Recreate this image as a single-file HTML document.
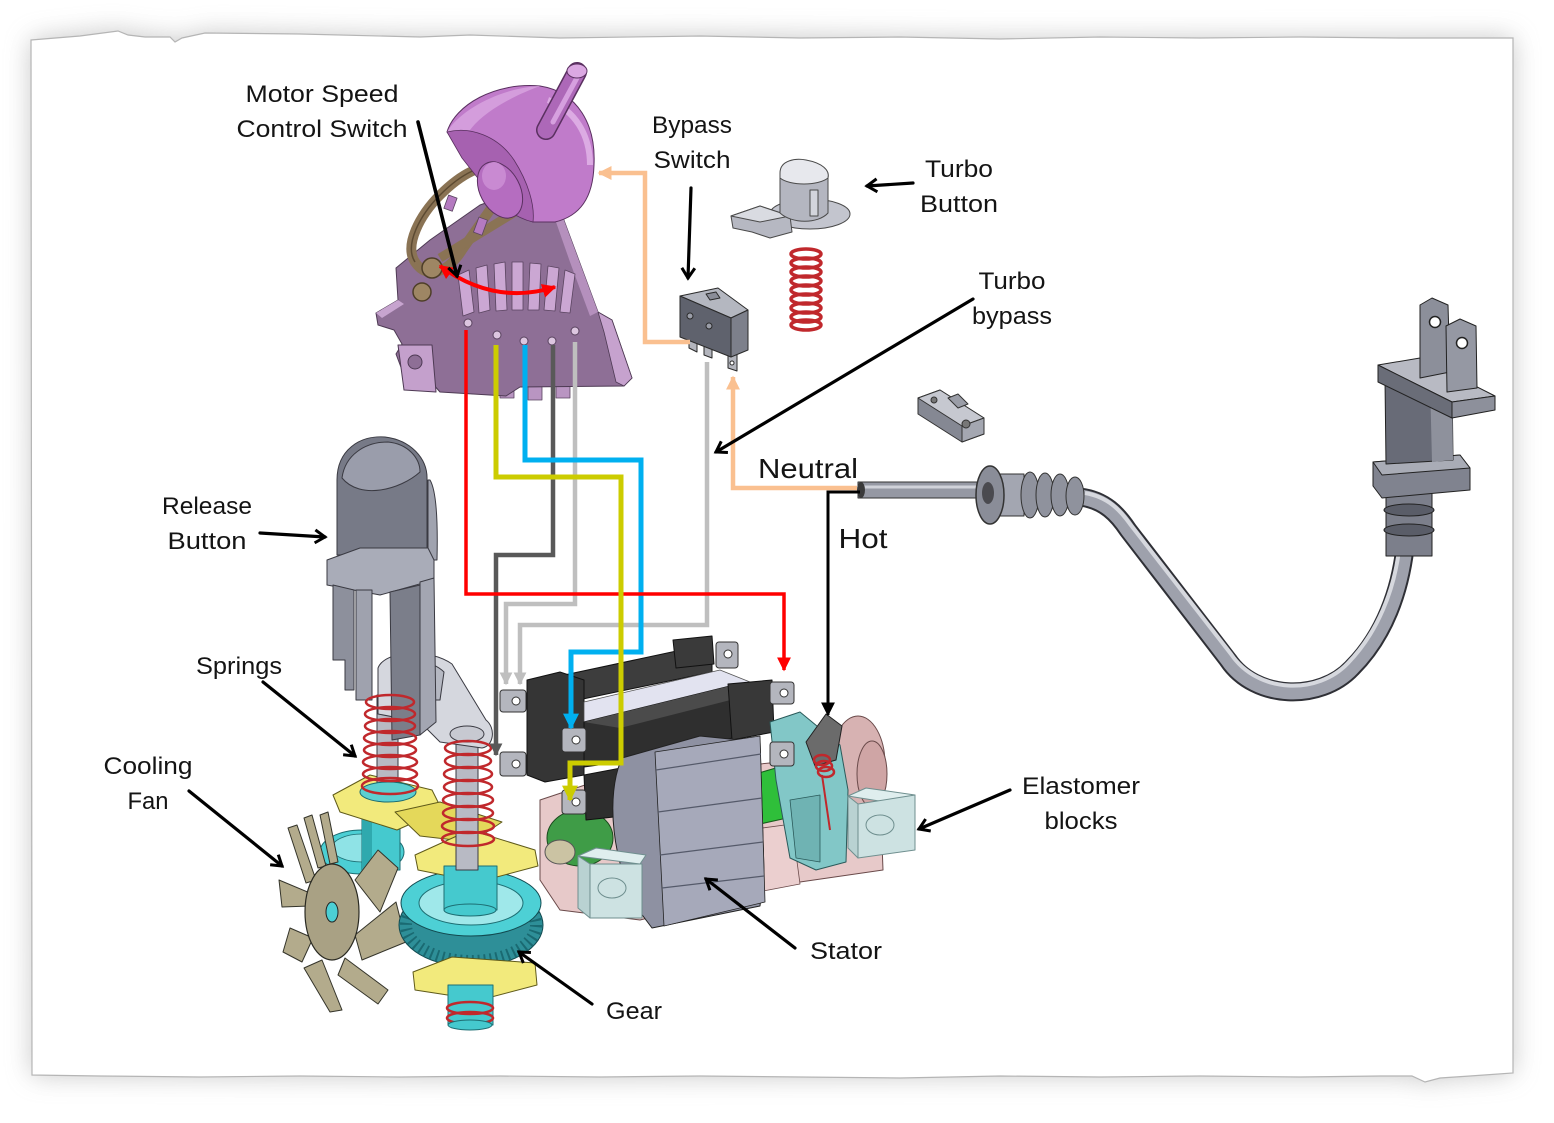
<!DOCTYPE html>
<html><head><meta charset="utf-8">
<style>
html,body{margin:0;padding:0;background:#fff;}
svg{display:block;}
text{font-family:"Liberation Sans",sans-serif;fill:#141414;}
</style></head><body>
<svg width="1554" height="1123" viewBox="0 0 1554 1123" xmlns="http://www.w3.org/2000/svg">
<defs>
<filter id="sh" x="-10%" y="-10%" width="120%" height="120%"><feGaussianBlur stdDeviation="13"/></filter>
<marker id="ah" markerWidth="16" markerHeight="16" refX="12" refY="8" orient="auto" markerUnits="userSpaceOnUse"><path d="M2,1.5 L12,8 L2,14.5" fill="none" stroke="#000" stroke-width="3"/></marker>
<marker id="mr" viewBox="0 0 10 10" refX="9" refY="5" markerWidth="14" markerHeight="14" orient="auto-start-reverse" markerUnits="userSpaceOnUse"><path d="M0,0 L10,5 L0,10 z" fill="#ff0000"/></marker>
<marker id="my" viewBox="0 0 10 10" refX="9" refY="5" markerWidth="16" markerHeight="16" orient="auto" markerUnits="userSpaceOnUse"><path d="M0,0 L10,5 L0,10 z" fill="#cccc00"/></marker>
<marker id="mb" viewBox="0 0 10 10" refX="9" refY="5" markerWidth="16" markerHeight="16" orient="auto" markerUnits="userSpaceOnUse"><path d="M0,0 L10,5 L0,10 z" fill="#00b0f0"/></marker>
<marker id="md" viewBox="0 0 10 10" refX="9" refY="5" markerWidth="13" markerHeight="13" orient="auto" markerUnits="userSpaceOnUse"><path d="M0,0 L10,5 L0,10 z" fill="#595959"/></marker>
<marker id="ml" viewBox="0 0 10 10" refX="9" refY="5" markerWidth="13" markerHeight="13" orient="auto" markerUnits="userSpaceOnUse"><path d="M0,0 L10,5 L0,10 z" fill="#bfbfbf"/></marker>
<marker id="mp" viewBox="0 0 10 10" refX="9" refY="5" markerWidth="14" markerHeight="14" orient="auto" markerUnits="userSpaceOnUse"><path d="M0,0 L10,5 L0,10 z" fill="#fac090"/></marker>
<marker id="mk" viewBox="0 0 10 10" refX="9" refY="5" markerWidth="14" markerHeight="14" orient="auto" markerUnits="userSpaceOnUse"><path d="M0,0 L10,5 L0,10 z" fill="#000"/></marker>
</defs>

<!-- paper shadow and paper -->
<path d="M31,40 L118,31 L145,37 L170,37 L175,42 L205,33 L420,37 L700,36 L1000,39 L1513,38 L1513,1073 L1440,1078 L1425,1082 L1412,1076 L1000,1076 L500,1077 L32,1075 Z" fill="#9a9a9a" opacity="0.55" filter="url(#sh)"/>
<path d="M31,40 L80,36 L118,31 L128,35 L145,37 L170,37 L175,42 L182,38 L205,33 L300,34 L420,37 L470,35 L560,38 L700,36 L800,38 L900,37 L1000,39 L1100,37 L1200,38 L1300,37 L1400,38 L1513,38 L1513,1073 L1470,1076 L1440,1078 L1425,1082 L1412,1076 L1380,1076 L1300,1077 L1200,1076 L1100,1077 L1000,1076 L900,1078 L800,1077 L700,1076 L600,1077 L500,1076 L400,1077 L300,1076 L200,1077 L100,1076 L32,1075 Z" fill="#fff" stroke="#b5b5b5" stroke-width="1.2"/>

<!-- ===== Motor speed control switch ===== -->
<g stroke-linejoin="round">
<rect x="472" y="364" width="14" height="30" fill="#b995c2" stroke="#5a4460" stroke-width="0.8"/>
<rect x="500" y="368" width="14" height="30" fill="#b995c2" stroke="#5a4460" stroke-width="0.8"/>
<rect x="528" y="370" width="14" height="30" fill="#b995c2" stroke="#5a4460" stroke-width="0.8"/>
<rect x="556" y="370" width="14" height="28" fill="#b995c2" stroke="#5a4460" stroke-width="0.8"/>
<path d="M376,313 L398,300 L396,268 L430,240 L480,205 L528,188 L562,215 L578,258 L598,312 L612,320 L632,378 L624,386 L520,387 L506,396 L440,392 L432,383 L420,372 L402,370 L396,354 L402,344 L394,330 L378,325 Z" fill="#8e6f96" stroke="#4e3a54" stroke-width="1"/>
<path d="M376,313 L398,300 L404,304 L382,318 Z" fill="#c7a4cf"/>
<path d="M598,312 L612,320 L632,378 L624,386 L616,382 L604,332 Z" fill="#c6a2ce" stroke="#4e3a54" stroke-width="0.8"/>
<path d="M562,215 L578,258 L598,312 L590,316 L570,262 L556,222 Z" fill="#b590bd"/>
<path d="M398,345 L432,345 L436,392 L404,390 Z" fill="#c4a0cc" stroke="#4e3a54" stroke-width="1"/>
<circle cx="415" cy="362" r="7" fill="#8e6f96" stroke="#4e3a54"/>
<!-- teeth -->
<g fill="#cba7d3" stroke="#5a4460" stroke-width="0.8">
<path d="M458,275 L469,270 L474,312 L463,316 Z"/>
<path d="M476,268 L487,265 L490,310 L479,313 Z"/>
<path d="M494,264 L505,262 L507,310 L496,311 Z"/>
<path d="M512,262 L523,262 L523,310 L512,310 Z"/>
<path d="M530,263 L541,264 L539,310 L528,310 Z"/>
<path d="M548,266 L559,268 L555,311 L544,310 Z"/>
<path d="M565,270 L575,274 L570,313 L560,312 Z"/>
</g>
<!-- pin holes -->
<g fill="#dcc6e0" stroke="#5a4460" stroke-width="1">
<circle cx="468" cy="323" r="4"/><circle cx="497" cy="335" r="4"/><circle cx="524" cy="341" r="4"/><circle cx="552" cy="341" r="4"/><circle cx="575" cy="331" r="4"/>
</g>
<!-- brown linkage -->
<path d="M415,262 C404,245 420,215 440,195 C460,175 485,160 500,170 C508,178 500,195 490,210 L462,250 C450,270 428,282 415,262 Z" fill="none" stroke="#8a7354" stroke-width="10"/>
<path d="M415,262 C404,245 420,215 440,195 C460,175 485,160 500,170" fill="none" stroke="#5c4a32" stroke-width="1.5"/>
<line x1="440" y1="258" x2="515" y2="212" stroke="#8a7354" stroke-width="9"/>
<circle cx="432" cy="268" r="10" fill="#9e8664" stroke="#4e3e28" stroke-width="1.5"/>
<circle cx="422" cy="292" r="9" fill="#9e8664" stroke="#4e3e28" stroke-width="1.5"/>
<rect x="446" y="196" width="9" height="14" fill="#b47ac0" stroke="#5a4460" stroke-width="0.8" transform="rotate(20 450 203)"/>
<rect x="476" y="218" width="9" height="16" fill="#b47ac0" stroke="#5a4460" stroke-width="0.8" transform="rotate(20 480 226)"/>
<!-- dial -->
<path d="M447,132 C455,105 495,82 540,86 C578,92 596,125 594,165 C593,198 580,216 555,222 L533,222 C515,216 500,200 490,186 Z" fill="#c07bca" stroke="#5a3060" stroke-width="1"/>
<path d="M447,132 C460,110 500,88 540,86 C518,94 485,110 470,130 Z" fill="#d49ddc"/>
<path d="M447,132 C470,126 498,136 514,160 C528,182 535,205 533,222 C515,218 497,204 484,186 L462,158 Z" fill="#a661b0" stroke="#5a3060" stroke-width="0.8"/>
<path d="M548,100 C575,110 590,135 590,165" fill="none" stroke="#dcabe3" stroke-width="6"/>
<ellipse cx="500" cy="190" rx="20" ry="30" transform="rotate(-28 500 190)" fill="#b56dc0" stroke="#5a3060" stroke-width="1"/>
<ellipse cx="494" cy="176" rx="12" ry="14" fill="#c98ad2"/>
<!-- lever -->
<line x1="546" y1="130" x2="577" y2="72" stroke="#5a3060" stroke-width="20" stroke-linecap="round"/>
<line x1="546" y1="130" x2="577" y2="72" stroke="#ad68b8" stroke-width="17" stroke-linecap="round"/>
<line x1="553" y1="122" x2="578" y2="76" stroke="#d6a0df" stroke-width="5" stroke-linecap="round"/>
<ellipse cx="577" cy="71" rx="10" ry="7" fill="#dba8e2" stroke="#5a3060" stroke-width="1"/>
</g>

<!-- ===== Bypass micro switch ===== -->
<g stroke="#2a2a2a" stroke-width="1" stroke-linejoin="round">
<path d="M689,336 L697,340 L697,352 L689,348 Z" fill="#b3b5bd"/>
<path d="M704,344 L712,347 L712,358 L704,355 Z" fill="#b3b5bd"/>
<path d="M728,352 L737,355 L737,371 L728,368 Z" fill="#b3b5bd"/>
<path d="M680,296 L718,288 L748,310 L731,318 Z" fill="#b4b7c0"/>
<path d="M680,296 L731,318 L731,357 L680,337 Z" fill="#5f626d"/>
<path d="M731,318 L748,310 L748,350 L731,357 Z" fill="#7d808b"/>
<path d="M706,294 L716,292 L720,298 L710,300 Z" fill="#8a8d98"/>
<circle cx="690" cy="316" r="3" fill="#9a9da8"/>
<circle cx="709" cy="326" r="3" fill="#9a9da8"/>
<circle cx="732" cy="363" r="2" fill="#fff"/>
</g>

<!-- ===== Turbo button ===== -->
<g stroke="#4a4a4a" stroke-width="1" stroke-linejoin="round">
<ellipse cx="810" cy="214" rx="40" ry="15" fill="#c3c5ce"/>
<path d="M731,216 L760,206 L790,216 L792,232 L770,238 L752,232 L733,228 Z" fill="#b6b8c2"/>
<path d="M731,216 L760,206 L790,216 L760,222 Z" fill="#d9dbe1"/>
<path d="M780,173 L780,213 C792,224 818,224 828,213 L828,173 Z" fill="#b4b6c0"/>
<path d="M780,173 C780,160 796,158 806,160 C822,163 830,170 828,178 C818,186 790,186 780,178 Z" fill="#e7e8ed"/>
<rect x="810" y="190" width="8" height="26" fill="#d3d5dc"/>
</g>

<!-- ===== Red spring ===== -->
<g fill="none" stroke="#c0282c" stroke-width="3.5">
<ellipse cx="806" cy="254" rx="15" ry="5"/><ellipse cx="806" cy="263" rx="15" ry="5"/><ellipse cx="806" cy="272" rx="15" ry="5"/><ellipse cx="806" cy="281" rx="15" ry="5"/><ellipse cx="806" cy="290" rx="15" ry="5"/><ellipse cx="806" cy="299" rx="15" ry="5"/><ellipse cx="806" cy="308" rx="15" ry="5"/><ellipse cx="806" cy="317" rx="15" ry="5"/><ellipse cx="806" cy="325" rx="15" ry="5"/>
</g>

<!-- ===== Clip ===== -->
<g stroke="#333" stroke-width="1" stroke-linejoin="round">
<path d="M918,398 L940,390 L984,418 L984,434 L962,442 L918,414 Z" fill="#858893"/>
<path d="M918,398 L940,390 L984,418 L962,426 Z" fill="#c6c8d0"/>
<path d="M962,426 L984,418 L984,434 L962,442 Z" fill="#a4a7b1"/>
<circle cx="934" cy="400" r="3" fill="#777"/><circle cx="966" cy="424" r="4" fill="#777"/>
<path d="M948,398 L958,394 L968,404 L958,408 Z" fill="#9a9da7"/>
</g>

<!-- ===== Cord & plug ===== -->
<g stroke-linejoin="round">
<path d="M1080,497 C1105,500 1118,515 1128,530 L1228,660 C1255,700 1320,702 1352,668 C1385,635 1400,590 1405,548" fill="none" stroke="#2f3036" stroke-width="19" stroke-linecap="round"/>
<path d="M1080,497 C1105,500 1118,515 1128,530 L1228,660 C1255,700 1320,702 1352,668 C1385,635 1400,590 1405,548" fill="none" stroke="#9ea1ac" stroke-width="15" stroke-linecap="round"/>
<path d="M1085,493 C1108,497 1120,510 1130,524 L1231,654 C1258,694 1318,695 1348,663 C1378,632 1394,590 1399,550" fill="none" stroke="#d6d8de" stroke-width="4"/>
<rect x="858" y="482" width="120" height="16" fill="#9598a3" stroke="#333" stroke-width="1"/>
<line x1="860" y1="487" x2="976" y2="487" stroke="#d0d2d9" stroke-width="3"/>
<ellipse cx="861" cy="490" rx="4" ry="8" fill="#3a3a3a"/>
<rect x="998" y="474" width="26" height="42" fill="#a3a6b1" stroke="#333"/>
<ellipse cx="1030" cy="495" rx="9" ry="23" fill="#8f929d" stroke="#333"/>
<ellipse cx="1045" cy="495" rx="9" ry="22" fill="#8f929d" stroke="#333"/>
<ellipse cx="1060" cy="495" rx="9" ry="21" fill="#8f929d" stroke="#333"/>
<ellipse cx="1075" cy="496" rx="9" ry="19" fill="#8f929d" stroke="#333"/>
<ellipse cx="990" cy="495" rx="14" ry="29" fill="#8a8d98" stroke="#333" stroke-width="1.5"/>
<ellipse cx="988" cy="493" rx="6" ry="11" fill="#4a4a4f"/>
<!-- plug -->
<rect x="1386" y="490" width="46" height="66" fill="#7c7f8b" stroke="#222"/>
<ellipse cx="1409" cy="510" rx="25" ry="6" fill="#5a5d68" stroke="#222"/>
<ellipse cx="1409" cy="530" rx="25" ry="6" fill="#5a5d68" stroke="#222"/>
<path d="M1373,462 L1460,455 L1470,468 L1470,490 L1382,498 L1373,486 Z" fill="#80838f" stroke="#222"/>
<path d="M1373,462 L1460,455 L1470,468 L1382,475 Z" fill="#a9acb6" stroke="#222"/>
<path d="M1385,380 L1452,380 L1453,460 L1386,464 Z" fill="#686b77" stroke="#222"/>
<path d="M1430,380 L1452,380 L1453,460 L1432,462 Z" fill="#8e919c"/>
<path d="M1378,365 L1420,358 L1495,396 L1452,402 Z" fill="#b8bac3" stroke="#222"/>
<path d="M1378,365 L1452,402 L1452,418 L1378,382 Z" fill="#6a6d78" stroke="#222"/>
<path d="M1452,402 L1495,396 L1495,410 L1452,418 Z" fill="#8d909b" stroke="#222"/>
<path d="M1420,305 L1432,298 L1448,305 L1450,372 L1420,378 Z" fill="#8c8f9a" stroke="#222"/>
<circle cx="1435" cy="322" r="5.5" fill="#fff" stroke="#222" stroke-width="1.5"/>
<path d="M1446,326 L1460,319 L1476,326 L1477,388 L1447,392 Z" fill="#9598a3" stroke="#222"/>
<circle cx="1462" cy="343" r="5.5" fill="#fff" stroke="#222" stroke-width="1.5"/>
</g>

<!-- ===== Motor ===== -->
<g stroke-linejoin="round">
<path d="M540,800 L600,780 L700,770 L800,760 L880,790 L883,870 L800,882 L700,905 L640,920 L560,910 L540,880 Z" fill="#e7c9c9" stroke="#6a4a4a" stroke-width="1"/>
<ellipse cx="858" cy="764" rx="27" ry="48" fill="#d7b2b2" stroke="#6a4a4a"/>
<ellipse cx="872" cy="774" rx="15" ry="33" fill="#cfa5a5" stroke="#6a4a4a"/>
<path d="M748,830 L792,824 L800,884 L758,892 Z" fill="#ebcfcf" stroke="#6a4a4a" stroke-width="0.8"/>
<ellipse cx="580" cy="838" rx="33" ry="28" fill="#3f9c47" stroke="#1b4a1d"/>
<ellipse cx="560" cy="852" rx="15" ry="12" fill="#cbc3a3" stroke="#555"/>
<path d="M752,775 L786,765 L796,816 L760,824 Z" fill="#2fbf3a" stroke="#175a1c"/>
<!-- back bobbin -->
<path d="M527,683 L700,646 L712,648 L712,672 L540,708 Z" fill="#3d3d3d" stroke="#111"/>
<path d="M673,640 L712,636 L714,664 L676,668 Z" fill="#3a3a3a" stroke="#111"/>
<path d="M527,680 L560,672 L584,680 L584,775 L545,782 L527,775 Z" fill="#353535" stroke="#111"/>
<path d="M584,702 L720,670 L770,690 L770,720 L620,742 L584,747 Z" fill="#e2e3f0" stroke="#555" stroke-width="0.8"/>
<!-- front bobbin -->
<path d="M584,722 L730,686 L770,690 L770,730 L620,762 L584,767 Z" fill="#2f2f2f" stroke="#111"/>
<path d="M584,722 L730,686 L770,690 L620,728 Z" fill="#4b4b4b"/>
<path d="M728,684 L772,680 L774,732 L732,740 Z" fill="#383838" stroke="#111"/>
<path d="M584,775 L621,768 L623,816 L586,820 Z" fill="#2e2e2e" stroke="#111"/>
<!-- stator -->
<path d="M622,758 C605,795 612,865 640,912 L652,928 L760,906 L764,872 L760,742 L700,736 Z" fill="#8e91a2" stroke="#222"/>
<path d="M655,752 L760,736 L765,902 L664,926 Z" fill="#a6a9ba" stroke="#222" stroke-width="0.8"/>
<g stroke="#555a6a" stroke-width="1.2">
<line x1="656" y1="770" x2="761" y2="754"/><line x1="658" y1="812" x2="762" y2="798"/><line x1="660" y1="855" x2="763" y2="842"/><line x1="662" y1="888" x2="764" y2="876"/>
</g>
<!-- teal bracket -->
<path d="M770,722 L800,712 L840,745 L848,790 L846,862 L816,870 L790,858 L776,780 Z" fill="#82c7c7" stroke="#2a5a5a"/>
<path d="M790,800 L820,795 L820,862 L796,858 Z" fill="#6fb3b3" stroke="#2a5a5a" stroke-width="0.8"/>
<path d="M806,742 L826,714 L842,726 L836,760 L815,766 Z" fill="#6b6b6b" stroke="#222"/>
<g fill="none" stroke="#c0282c" stroke-width="2.5">
<ellipse cx="822" cy="760" rx="8" ry="5"/><ellipse cx="824" cy="766" rx="8" ry="5"/><ellipse cx="826" cy="772" rx="8" ry="5"/>
</g>
<line x1="822" y1="775" x2="830" y2="830" stroke="#c0282c" stroke-width="2"/>
<!-- terminals -->
<g fill="#b4b6be" stroke="#333" stroke-width="1">
<rect x="500" y="690" width="26" height="22" rx="3"/><rect x="500" y="752" width="26" height="24" rx="3"/>
<rect x="562" y="728" width="24" height="24" rx="3"/><rect x="562" y="790" width="24" height="24" rx="3"/>
<rect x="716" y="642" width="22" height="26" rx="3"/><rect x="770" y="682" width="24" height="22" rx="3"/>
<rect x="770" y="742" width="24" height="24" rx="3"/>
</g>
<g fill="#fff" stroke="#333" stroke-width="1">
<circle cx="516" cy="701" r="4"/><circle cx="516" cy="764" r="4"/><circle cx="576" cy="740" r="4"/><circle cx="576" cy="802" r="4"/><circle cx="728" cy="654" r="4"/><circle cx="784" cy="693" r="4"/><circle cx="784" cy="754" r="4"/>
</g>
<!-- elastomer blocks -->
<g stroke="#6f8f8f" stroke-width="1">
<path d="M578,856 L596,848 L646,855 L640,864 Z" fill="#dfeeee"/>
<path d="M578,856 L590,864 L590,918 L578,908 Z" fill="#b9d2d2"/>
<rect x="590" y="864" width="52" height="54" fill="#cde2e2"/>
<ellipse cx="612" cy="888" rx="14" ry="10" fill="none"/>
<path d="M848,796 L866,788 L915,795 L898,804 Z" fill="#dfeeee"/>
<path d="M848,796 L858,804 L858,858 L848,848 Z" fill="#b9d2d2"/>
<path d="M858,804 L915,795 L915,850 L858,858 Z" fill="#cde2e2"/>
<ellipse cx="880" cy="825" rx="14" ry="10" fill="none"/>
</g>
</g>

<!-- ===== Gear assembly & fan ===== -->
<g stroke-linejoin="round">
<ellipse cx="362" cy="852" rx="42" ry="22" fill="#4ccfd4" stroke="#1d6e73"/>
<ellipse cx="362" cy="848" rx="30" ry="14" fill="#8fe3e6" stroke="#1d6e73" stroke-width="0.8"/>
<rect x="362" y="790" width="38" height="80" fill="#45c9ce" stroke="#1d6e73"/>
<rect x="362" y="790" width="10" height="80" fill="#2fa9ae"/>
<!-- fan -->
<g fill="#b3ab8c" stroke="#34342a" stroke-width="1">
<path d="M288,828 L297,825 L316,880 L306,883 Z"/>
<path d="M304,818 L312,815 L326,866 L318,868 Z"/>
<path d="M320,815 L328,812 L338,862 L330,864 Z"/>
<path d="M355,880 L378,850 L398,868 L380,912 Z"/>
<path d="M355,935 L396,902 L406,942 L362,960 Z"/>
<path d="M345,958 L388,990 L378,1004 L338,975 Z"/>
<path d="M322,960 L342,1010 L330,1012 L304,968 Z"/>
<path d="M290,928 L313,938 L302,962 L283,952 Z"/>
<path d="M279,880 L310,893 L310,906 L282,907 Z"/>
</g>
<ellipse cx="332" cy="912" rx="27" ry="48" fill="#a9a184" stroke="#2a2a22" stroke-width="1.2"/>
<ellipse cx="332" cy="912" rx="6" ry="10" fill="#4ccfd4" stroke="#222"/>
<!-- yellow plates -->
<path d="M333,795 L370,775 L432,790 L442,810 L397,830 L340,812 Z" fill="#f2ea7c" stroke="#5f5a1a"/>
<path d="M395,812 L440,802 L502,822 L472,842 L420,836 Z" fill="#e4d85a" stroke="#5f5a1a"/>
<!-- gear -->
<ellipse cx="471" cy="925" rx="72" ry="42" fill="#2e8f98" stroke="#124a50"/>
<ellipse cx="471" cy="925" rx="65" ry="36" fill="none" stroke="#1a6a72" stroke-width="12" stroke-dasharray="2 4"/>
<ellipse cx="471" cy="903" rx="70" ry="33" fill="#4dd0d5" stroke="#124a50"/>
<ellipse cx="471" cy="903" rx="52" ry="22" fill="#9fe8ea" stroke="#1d6e73"/>
<path d="M415,855 L470,830 L535,850 L538,866 L478,882 L418,870 Z" fill="#f2ea7c" stroke="#5f5a1a"/>
<rect x="444" y="866" width="53" height="44" fill="#45c9ce" stroke="#1d6e73"/>
<ellipse cx="470" cy="910" rx="26" ry="6" fill="#45c9ce" stroke="#1d6e73"/>
<path d="M413,972 L452,957 L535,963 L537,985 L480,1000 L415,990 Z" fill="#f2ea7c" stroke="#5f5a1a"/>
<rect x="448" y="985" width="45" height="40" fill="#45c9ce" stroke="#1d6e73"/>
<ellipse cx="470" cy="1008" rx="23" ry="6" fill="none" stroke="#c0282c" stroke-width="2.5"/>
<ellipse cx="470" cy="1018" rx="23" ry="6" fill="none" stroke="#c0282c" stroke-width="2.5"/>
<ellipse cx="470" cy="1025" rx="22" ry="5" fill="#45c9ce" stroke="#1d6e73"/>
</g>

<!-- ===== Release button, shafts, springs ===== -->
<g stroke-linejoin="round" stroke="#3a3a42" stroke-width="1">
<rect x="456" y="735" width="22" height="135" fill="#b8bac4"/>
<rect x="377" y="695" width="21" height="100" fill="#b8bac4"/>
<ellipse cx="388" cy="792" rx="28" ry="10" fill="#5ccfd0" stroke="#1a6a70"/>
<path d="M378,668 C385,650 430,648 452,664 L486,720 C496,728 494,746 482,748 L440,742 L420,722 L378,714 Z" fill="#d5d7de"/>
<path d="M398,668 C410,660 432,660 444,672 L440,700 L400,700 Z" fill="#b5b8c2"/>
<ellipse cx="467" cy="734" rx="17" ry="8" fill="#c7c9d1"/>
<path d="M430,480 C436,490 438,520 437,560 L428,560 L428,480 Z" fill="#a0a3af"/>
<path d="M337,555 L337,480 C337,450 360,435 385,437 C410,440 428,458 427,480 L427,553 Z" fill="#777a87"/>
<path d="M342,478 C345,455 365,442 388,442 C408,444 420,458 420,472 C400,490 360,500 342,478 Z" fill="#9a9dab"/>
<path d="M327,560 L360,548 L428,548 L434,560 L434,580 L380,595 L327,585 Z" fill="#a9acb8"/>
<path d="M333,585 L354,590 L354,690 L345,690 L345,660 L333,660 Z" fill="#8d909c"/>
<rect x="356" y="590" width="16" height="110" fill="#9fa2ae"/>
<path d="M390,592 L420,585 L420,735 L392,740 Z" fill="#7b7e8a"/>
<path d="M420,582 L434,578 L436,722 L420,735 Z" fill="#a3a6b2"/>
</g>
<g fill="none" stroke="#c0282c" stroke-width="2.5">
<ellipse cx="390" cy="702" rx="24" ry="7"/><ellipse cx="390" cy="714" rx="25" ry="7"/><ellipse cx="390" cy="726" rx="25" ry="7"/><ellipse cx="390" cy="738" rx="26" ry="7"/><ellipse cx="390" cy="750" rx="26" ry="7"/><ellipse cx="390" cy="762" rx="27" ry="7"/><ellipse cx="390" cy="774" rx="27" ry="7"/><ellipse cx="390" cy="786" rx="28" ry="8"/>
<ellipse cx="468" cy="748" rx="23" ry="7"/><ellipse cx="468" cy="761" rx="23" ry="7"/><ellipse cx="468" cy="774" rx="24" ry="7"/><ellipse cx="468" cy="787" rx="24" ry="7"/><ellipse cx="468" cy="800" rx="25" ry="7"/><ellipse cx="468" cy="813" rx="25" ry="7"/><ellipse cx="468" cy="826" rx="26" ry="7"/><ellipse cx="468" cy="839" rx="26" ry="7"/>
</g>

<!-- ===== Wires ===== -->
<g fill="none" stroke-linejoin="miter" stroke-linecap="butt">
<path d="M707,362 L707,625 L520,625 L520,684" stroke="#bfbfbf" stroke-width="4.5" marker-end="url(#ml)"/>
<path d="M575,342 L575,604 L506,604 L506,684" stroke="#bfbfbf" stroke-width="4.5" marker-end="url(#ml)"/>
<path d="M553,345 L553,555 L496,555 L496,755" stroke="#595959" stroke-width="4.5" marker-end="url(#md)"/>
<path d="M525,345 L525,460 L641,460 L641,652 L571,652 L571,728" stroke="#00b0f0" stroke-width="5" marker-end="url(#mb)"/>
<path d="M466,330 L466,594 L784,594 L784,670" stroke="#ff0000" stroke-width="3.5" marker-end="url(#mr)"/>
<path d="M496,345 L496,477 L621,477 L621,763 L570,763 L570,800" stroke="#cccc00" stroke-width="5" marker-end="url(#my)"/>
<path d="M690,342 L645,342 L645,173 L599,173" stroke="#fac090" stroke-width="4.5" marker-end="url(#mp)"/>
<path d="M857,488 L733,488 L733,377" stroke="#fac090" stroke-width="4.5" marker-end="url(#mp)"/>
<path d="M860,492 L828,492 L828,715" stroke="#000" stroke-width="3" marker-end="url(#mk)"/>
<path d="M440,266 Q495,306 555,287" stroke="#ff0000" stroke-width="4" marker-start="url(#mr)" marker-end="url(#mr)"/>
</g>

<!-- ===== Pointer arrows ===== -->
<g stroke="#000" stroke-width="3.2" fill="none" stroke-linecap="round">
<line x1="418" y1="122" x2="457" y2="276" stroke-width="3.6" marker-end="url(#ah)"/>
<line x1="691" y1="188" x2="688" y2="278" marker-end="url(#ah)"/>
<line x1="913" y1="183" x2="867" y2="186" marker-end="url(#ah)"/>
<line x1="973" y1="299" x2="716" y2="452" marker-end="url(#ah)"/>
<line x1="260" y1="533" x2="325" y2="537" marker-end="url(#ah)"/>
<line x1="263" y1="682" x2="355" y2="756" marker-end="url(#ah)"/>
<line x1="189" y1="791" x2="282" y2="866" marker-end="url(#ah)"/>
<line x1="1010" y1="790" x2="919" y2="829" marker-end="url(#ah)"/>
<line x1="795" y1="948" x2="706" y2="879" marker-end="url(#ah)"/>
<line x1="592" y1="1004" x2="519" y2="952" marker-end="url(#ah)"/>
</g>

<!-- ===== Labels ===== -->
<g font-size="24" text-anchor="middle">
<text x="322" y="102" textLength="153" lengthAdjust="spacingAndGlyphs">Motor Speed</text>
<text x="322" y="137" textLength="171" lengthAdjust="spacingAndGlyphs">Control Switch</text>
<text x="692" y="133" textLength="80" lengthAdjust="spacingAndGlyphs">Bypass</text>
<text x="692" y="168" textLength="77" lengthAdjust="spacingAndGlyphs">Switch</text>
<text x="959" y="177" textLength="68" lengthAdjust="spacingAndGlyphs">Turbo</text>
<text x="959" y="212" textLength="78" lengthAdjust="spacingAndGlyphs">Button</text>
<text x="1012" y="289" textLength="67" lengthAdjust="spacingAndGlyphs">Turbo</text>
<text x="1012" y="324" textLength="80" lengthAdjust="spacingAndGlyphs">bypass</text>
<text x="207" y="514" textLength="90" lengthAdjust="spacingAndGlyphs">Release</text>
<text x="207" y="549" textLength="79" lengthAdjust="spacingAndGlyphs">Button</text>
<text x="239" y="674" textLength="86" lengthAdjust="spacingAndGlyphs">Springs</text>
<text x="148" y="774" textLength="89" lengthAdjust="spacingAndGlyphs">Cooling</text>
<text x="148" y="809" textLength="41" lengthAdjust="spacingAndGlyphs">Fan</text>
<text x="1081" y="794" textLength="118" lengthAdjust="spacingAndGlyphs">Elastomer</text>
<text x="1081" y="829" textLength="73" lengthAdjust="spacingAndGlyphs">blocks</text>
<text x="846" y="959" textLength="72" lengthAdjust="spacingAndGlyphs">Stator</text>
<text x="634" y="1019" textLength="56" lengthAdjust="spacingAndGlyphs">Gear</text>
</g>
<g font-size="28" text-anchor="middle">
<text x="808" y="478" textLength="100" lengthAdjust="spacingAndGlyphs">Neutral</text>
<text x="863" y="548" textLength="49" lengthAdjust="spacingAndGlyphs">Hot</text>
</g>
</svg>
</body></html>
